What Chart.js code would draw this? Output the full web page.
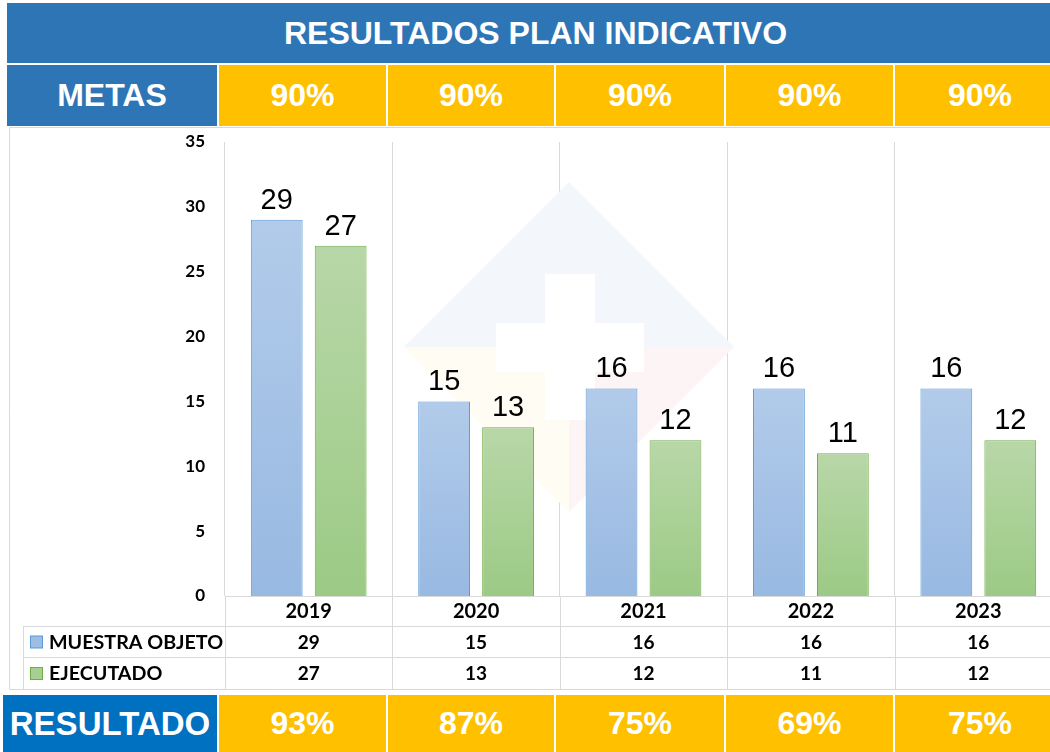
<!DOCTYPE html>
<html><head><meta charset="utf-8">
<script src="https://cdn.jsdelivr.net/npm/chart.js@4"></script>
<style>
html,body{margin:0;padding:0;width:1050px;height:752px;overflow:hidden;background:#fff;position:relative;}
.cell{position:absolute;display:flex;align-items:center;justify-content:center;color:#fff;font-family:"Liberation Sans",Arial,sans-serif;font-weight:bold;white-space:nowrap;}
</style></head><body>
<canvas id="c" width="1070" height="564" style="position:absolute;left:0;top:127px;width:1070px;height:564px;"></canvas>
<script>
// ---- data ----
const years = ['2019','2020','2021','2022','2023'];
const muestraObjeto = [29,15,16,16,16];
const ejecutado = [27,13,12,11,12];
const metas = ['90%','90%','90%','90%','90%'];
const resultado = ['93%','87%','75%','69%','75%'];
const yTicks = [0,5,10,15,20,25,30,35];
const titleText = 'RESULTADOS PLAN INDICATIVO';
const seriesNames = ['MUESTRA OBJETO','EJECUTADO'];
const rowNames = ['METAS','RESULTADO'];

// ---- header / footer boxes (layout) ----
const colLefts = [219,388,556,726,895];
const colWidths = [167,166,168,167,170];
function addCell(txt,l,t,w,h,bg,fs){
  const d=document.createElement('div');d.className='cell';
  d.style.cssText+=`left:${l}px;top:${t}px;width:${w}px;height:${h}px;background:${bg};font-size:${fs}px;`;
  d.textContent=txt;document.body.appendChild(d);
}
addCell(titleText,7,3,1057,60,'#2E75B6',32);
addCell(rowNames[0],7,65,210,61,'#2E75B6',32);
metas.forEach((m,i)=>addCell(m,colLefts[i],65,colWidths[i],61,'#FFC000',32));
addCell(rowNames[1],3,695,214,57,'#0070C0',33);
resultado.forEach((m,i)=>addCell(m,colLefts[i],695,colWidths[i],57,'#FFC000',32));

// ---- chart ----
const GRID='#D9D9D9';
const LBL='"Lato","Liberation Sans",sans-serif';
function barGrad(ctx,top,bot){
  const ch=ctx.chart; const a=ch.chartArea; if(!a||ctx.raw==null) return top;
  const y0=ch.scales.y.getPixelForValue(ctx.raw);
  const g=ch.ctx.createLinearGradient(0,y0,0,a.bottom);
  g.addColorStop(0,top); g.addColorStop(1,bot); return g;
}
const colors=[{top:'#B2CBEA',bot:'#98B9E2',border:'#5B9BD5',sw:'#9DBDE4'},
              {top:'#B8D7A8',bot:'#9CCA85',border:'#70AD47',sw:'#A6CF92'}];

const watermark={id:'wm',beforeDatasetsDraw(ch){
  const c=ch.ctx; const oy=127; c.save();
  const cx=569, cy=347-oy, r=165;
  c.fillStyle='#F3F6FB';
  c.beginPath();c.moveTo(cx-r,cy);c.lineTo(cx,cy-r);c.lineTo(cx+r,cy);c.closePath();c.fill();
  c.fillStyle='#FFFCF4';
  c.beginPath();c.moveTo(cx-r,cy);c.lineTo(cx,cy);c.lineTo(cx,cy+r);c.closePath();c.fill();
  c.fillStyle='#FDF4F6';
  c.beginPath();c.moveTo(cx+r,cy);c.lineTo(cx,cy);c.lineTo(cx,cy+r);c.closePath();c.fill();
  c.fillStyle='#FFFFFF';
  c.fillRect(545,274-oy,50,146);
  c.fillRect(496,323-oy,148,49);
  c.restore();
}};

const labels={id:'lbl',afterDatasetsDraw(ch){
  const c=ch.ctx;c.save();
  c.font='29px "Liberation Sans",Arial,sans-serif';c.fillStyle='#000';
  c.textAlign='center';c.textBaseline='alphabetic';
  ch.data.datasets.forEach((ds,di)=>{
    ch.getDatasetMeta(di).data.forEach((b,i)=>{c.fillText(String(ds.data[i]),b.x,b.y-11);});
  });
  c.restore();
}};

const table={id:'tbl',afterDraw(ch){
  const c=ch.ctx; const a=ch.chartArea; const xs=ch.scales.x;
  const step=xs.getPixelForValue(1)-xs.getPixelForValue(0);
  const r0=Math.round(xs.bottom), r1=r0+31, r2=r0+63;
  c.save(); c.strokeStyle=GRID; c.lineWidth=1;
  c.beginPath();
  c.moveTo(9.5,0.5);c.lineTo(1070,0.5);
  c.moveTo(9.5,0.5);c.lineTo(9.5,r2+0.5);
  c.moveTo(9.5,r2+0.5);c.lineTo(1070,r2+0.5);
  c.moveTo(23,r0+0.5);c.lineTo(1070,r0+0.5);
  c.moveTo(23,r1+0.5);c.lineTo(1070,r1+0.5);
  c.moveTo(23.5,r0);c.lineTo(23.5,r2);
  for(let i=0;i<=years.length;i++){
    const x=Math.round(xs.getPixelForValue(0)-step/2+i*step)+0.5;
    c.moveTo(x,a.bottom);c.lineTo(x,r2);
  }
  c.stroke();
  c.fillStyle='#000'; c.textBaseline='middle';
  const rows=[muestraObjeto,ejecutado];
  const ys=[(r0+r1)/2+1,(r1+r2)/2+1];
  rows.forEach((vals,ri)=>{
    c.font='bold 19px '+LBL;
    c.textAlign='center';
    vals.forEach((v,i)=>c.fillText(String(v),xs.getPixelForValue(i),ys[ri]));
    c.textAlign='left';
    c.font='bold 19.7px '+LBL;
    c.fillText(seriesNames[ri],49,ys[ri]);
    c.fillStyle=colors[ri].sw;c.fillRect(30.5,ys[ri]-6.5,12,12);
    c.strokeStyle=colors[ri].border;c.strokeRect(30.5,ys[ri]-6.5,12,12);
    c.fillStyle='#000';
  });
  c.restore();
}};

new Chart(document.getElementById('c'),{
  type:'bar',
  data:{labels:years,datasets:[
    {label:seriesNames[0],data:muestraObjeto,
     backgroundColor:ctx=>barGrad(ctx,colors[0].top,colors[0].bot),
     borderColor:colors[0].border,borderWidth:1,borderSkipped:'bottom'},
    {label:seriesNames[1],data:ejecutado,
     backgroundColor:ctx=>barGrad(ctx,colors[1].top,colors[1].bot),
     borderColor:colors[1].border,borderWidth:1,borderSkipped:'bottom'}
  ]},
  options:{
    responsive:false,animation:false,
    categoryPercentage:0.764,barPercentage:0.81,
    layout:{padding:{left:0,right:8,top:15,bottom:65}},
    plugins:{legend:{display:false},tooltip:{enabled:false}},
    scales:{
      x:{grid:{display:true,color:GRID,drawTicks:false,offset:true},
         border:{display:true,color:GRID},
         ticks:{font:{family:LBL,weight:'bold',size:20},color:'#000',padding:4,maxRotation:0},
         afterFit(s){s.height=30;s.paddingLeft=0;s.paddingRight=0;}},
      y:{min:0,max:35,
         afterBuildTicks(s){s.ticks=yTicks.map(v=>({value:v}));},
         grid:{display:false,drawTicks:false},border:{display:false},
         ticks:{font:{family:LBL,weight:'bold',size:17},color:'#000',padding:20},
         afterFit(s){s.width=225;s.paddingTop=0;s.paddingBottom=0;}}
    }
  },
  plugins:[watermark,labels,table]
});
</script>
</body></html>
